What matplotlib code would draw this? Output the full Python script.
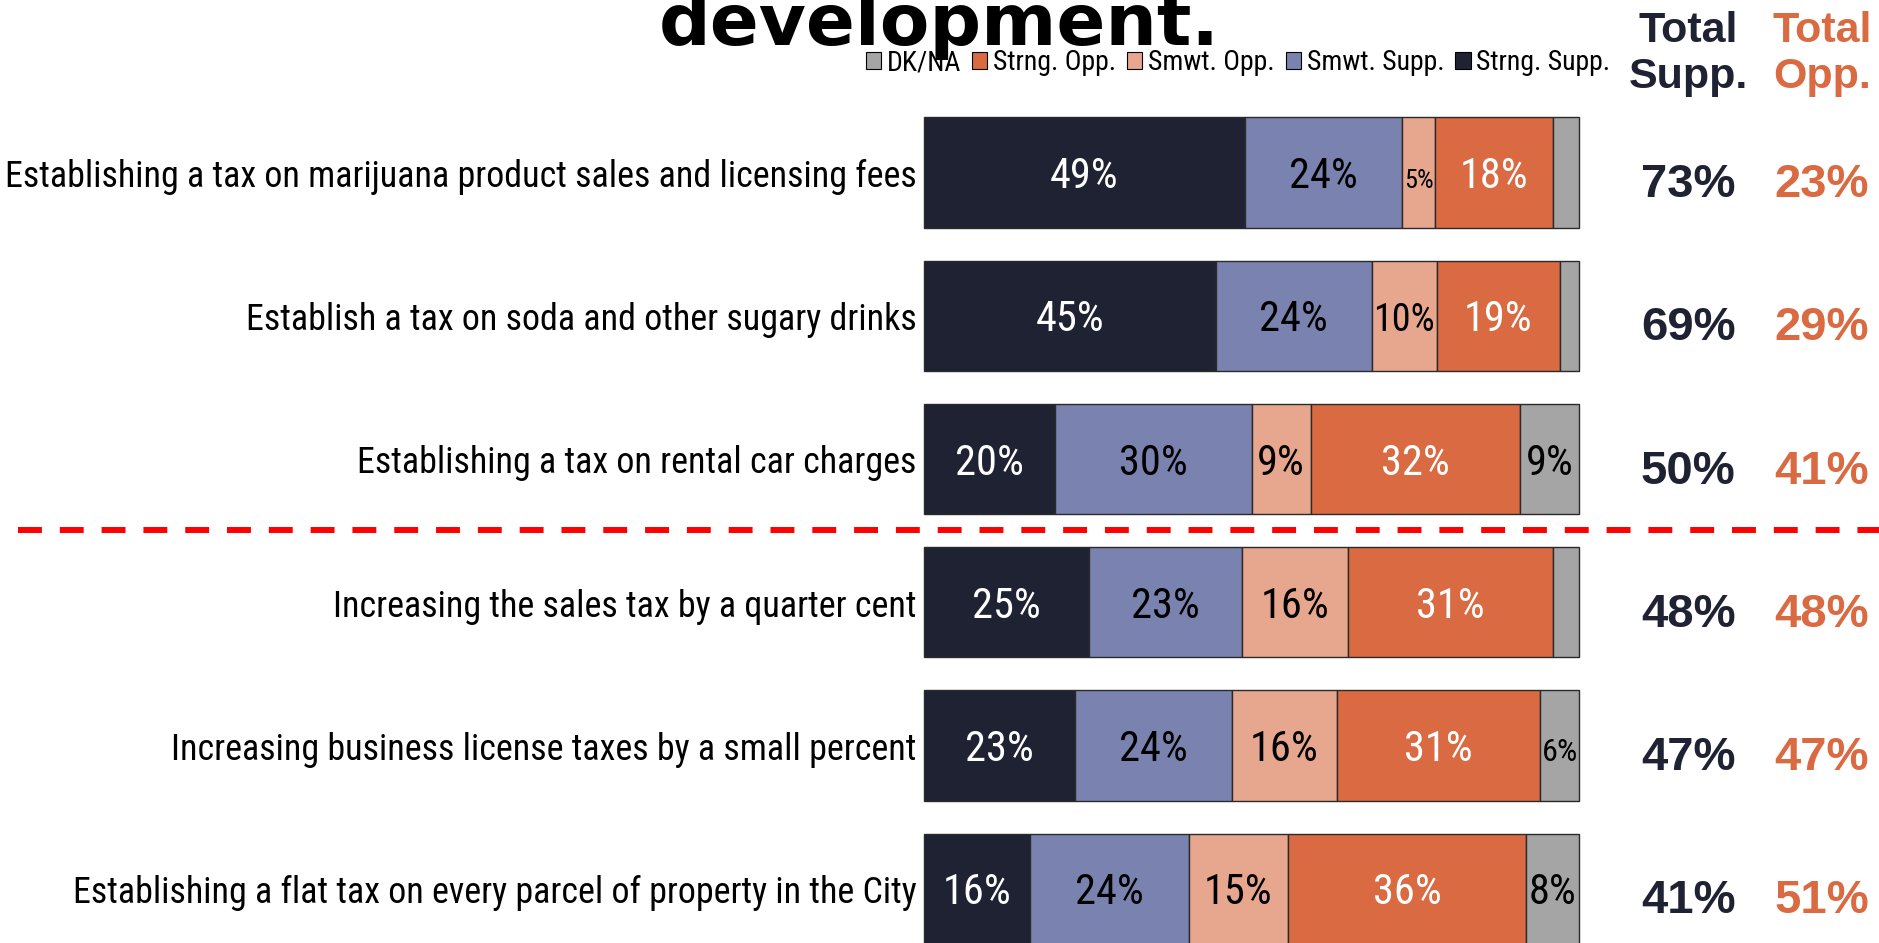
import numpy as np
import matplotlib.pyplot as plt
from matplotlib.patches import Patch

items = ['Establishing a tax on marijuana product sales and licensing fees',
         'Establish a tax on soda and other sugary drinks',
         'Establishing a tax on rental car charges',
         'Increasing the sales tax by a quarter cent',
         'Increasing business license taxes by a small percent',
         'Establishing a flat tax on every parcel of property in the City']
strng_supp = [49, 45, 20, 25, 23, 16]
smwt_supp = [24, 24, 30, 23, 24, 24]
smwt_opp = [5, 10, 9, 16, 16, 15]
strng_opp = [18, 19, 32, 31, 31, 36]
dk_na = [4, 3, 9, 4, 6, 8]
total_supp = [73, 69, 50, 48, 47, 41]
total_opp = [23, 29, 41, 48, 47, 51]

series = [strng_supp, smwt_supp, smwt_opp, strng_opp, dk_na]
names = ['Strng. Supp.', 'Smwt. Supp.', 'Smwt. Opp.', 'Strng. Opp.', 'DK/NA']
colors = ['#1F2233', '#7A83AF', '#E7A68E', '#D96A42', '#A5A5A5']
txtcol = ['white', 'black', 'black', 'white', 'black']
navy = '#1F2233'
orange = '#D96A42'

narrow = ['Roboto Condensed', 'DejaVu Sans']
bold = 'Liberation Sans'

fig = plt.figure(figsize=(18.79, 9.43), dpi=100)
ax = fig.add_axes([0, 0, 1, 1])
ax.axis('off')
ax.set_xlim(-140.95, 145.7)
ax.set_ylim(5.378, -1.204)

vals = np.array(series, dtype=float)
rowsum = vals.sum(axis=0)
widths = vals / rowsum * 100
y = np.arange(len(items))
px = 655.5 / 100  # pixels per percent

fig.canvas.draw()
renderer = fig.canvas.get_renderer()

lab_size = 30.5
left = np.zeros(len(items))
for k in range(len(series)):
    ax.barh(y, widths[k], left=left, height=0.77, color=colors[k],
            edgecolor='#2a2a2a', linewidth=1)
    for i in range(len(items)):
        v = series[k][i]
        if v >= 5:
            t = ax.text(left[i] + widths[k][i] / 2, y[i] + 0.108, f'{v}%',
                        ha='center', va='baseline', fontsize=lab_size,
                        family=narrow, color=txtcol[k])
            # shrink label to fit narrow segments
            w = t.get_window_extent(renderer).width
            seg = widths[k][i] * px
            if w > seg - 2:
                t.set_fontsize(lab_size * (seg - 3) / w)
    left += widths[k]

for i, lab in enumerate(items):
    ax.text(-1.1, y[i] + 0.10, lab, ha='right', va='baseline', fontsize=25.9,
            family=narrow, color='black')
    ax.text(116.6, y[i] + 0.171, f'{total_supp[i]}%', ha='center', va='baseline',
            fontsize=34, family=bold, weight='bold', color=navy)
    ax.text(137.0, y[i] + 0.171, f'{total_opp[i]}%', ha='center', va='baseline',
            fontsize=34, family=bold, weight='bold', color=orange)

# separator
ax.plot([-138.2, 145.7], [2.492, 2.492], color='red', linewidth=4.3,
        dashes=(4, 3), solid_capstyle='butt', dash_capstyle='butt')

# header
for xh, word, c in [(1688, 'Total', navy), (1688, 'Supp.', navy),
                    (1822, 'Total', orange), (1822, 'Opp.', orange)]:
    yb = 42 if word == 'Total' else 88
    fig.text(xh / 1879, 1 - yb / 943, word, ha='center', va='baseline',
             fontsize=31, family=bold, weight='bold', color=c)

fig.text(0.5, 1 - 45 / 943, 'development.', ha='center', va='baseline',
         fontsize=52, weight='bold', family='DejaVu Sans')

handles = [Patch(facecolor=colors[k], edgecolor='black', linewidth=0.8, label=names[k])
           for k in range(4, -1, -1)]
fig.legend(handles=handles, loc='center', bbox_to_anchor=(1238 / 1879, 1 - 63 / 943),
           ncol=5, frameon=False, prop={'family': narrow, 'size': 20},
           handlelength=0.55, handleheight=0.55, handletextpad=0.2, columnspacing=0.4,
           borderpad=0, borderaxespad=0)

fig.savefig('out.png', dpi=100)
